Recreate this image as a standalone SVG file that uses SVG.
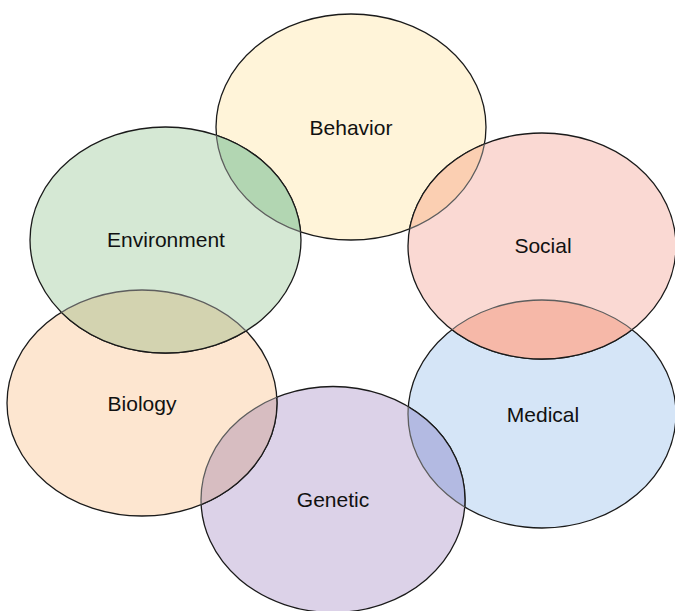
<svg xmlns="http://www.w3.org/2000/svg" width="675" height="611" viewBox="0 0 675 611">
<style>
.n{stroke:#1a1a1a;stroke-width:1.3}
.t{font-family:"Liberation Sans",Arial,sans-serif;font-size:21px;fill:#111;text-anchor:middle;dominant-baseline:central}
.h{fill:none;stroke:#5e5e5e;stroke-width:1.3}
</style>
<defs>
<clipPath id="cBeh"><ellipse cx="351" cy="127" rx="135" ry="113"/></clipPath>
<clipPath id="cMed"><ellipse cx="542" cy="414" rx="134" ry="114"/></clipPath>
<clipPath id="cSoc"><ellipse cx="542" cy="246" rx="134" ry="113"/></clipPath>
<clipPath id="cGen"><ellipse cx="333" cy="499.5" rx="132" ry="113"/></clipPath>
<clipPath id="cBio"><ellipse cx="142" cy="403" rx="135" ry="113"/></clipPath>
<clipPath id="cEnv"><ellipse cx="165.5" cy="240" rx="135.5" ry="113"/></clipPath>
</defs>
<g id="behavior"><ellipse class="n" cx="351" cy="127" rx="135" ry="113" fill="#fff4d9"/><text class="t" x="351" y="127">Behavior</text></g>
<g id="medical"><ellipse class="n" cx="542" cy="414" rx="134" ry="114" fill="#d5e5f7"/><text class="t" x="543" y="414">Medical</text></g>
<g id="social"><ellipse class="n" cx="542" cy="246" rx="134" ry="113" fill="#fad9d3"/><text class="t" x="543" y="245">Social</text></g>
<g id="genetic"><ellipse class="n" cx="333" cy="499.5" rx="132" ry="113" fill="#dcd2e8"/><text class="t" x="333" y="499">Genetic</text></g>
<g id="biology"><ellipse class="n" cx="142" cy="403" rx="135" ry="113" fill="#fde6d0"/><text class="t" x="142" y="403">Biology</text></g>
<g id="environment"><ellipse class="n" cx="165.5" cy="240" rx="135.5" ry="113" fill="#d5e8d4"/><text class="t" x="166" y="239">Environment</text></g>
<g id="overlaps">
<g clip-path="url(#cBeh)"><ellipse class="n" cx="542" cy="246" rx="134" ry="113" fill="#fbcfb2"/></g>
<g clip-path="url(#cSoc)"><ellipse class="h" cx="351" cy="127" rx="135" ry="113"/></g>
<g clip-path="url(#cMed)"><ellipse class="n" cx="542" cy="246" rx="134" ry="113" fill="#f6b8a8"/></g>
<g clip-path="url(#cSoc)"><ellipse class="h" cx="542" cy="414" rx="134" ry="114"/></g>
<g clip-path="url(#cMed)"><ellipse class="n" cx="333" cy="499.5" rx="132" ry="113" fill="#b3bae2"/></g>
<g clip-path="url(#cGen)"><ellipse class="h" cx="542" cy="414" rx="134" ry="114"/></g>
<g clip-path="url(#cGen)"><ellipse class="n" cx="142" cy="403" rx="135" ry="113" fill="#d7bdc1"/></g>
<g clip-path="url(#cBio)"><ellipse class="h" cx="333" cy="499.5" rx="132" ry="113"/></g>
<g clip-path="url(#cBio)"><ellipse class="n" cx="165.5" cy="240" rx="135.5" ry="113" fill="#d3d3b0"/></g>
<g clip-path="url(#cEnv)"><ellipse class="h" cx="142" cy="403" rx="135" ry="113"/></g>
<g clip-path="url(#cBeh)"><ellipse class="n" cx="165.5" cy="240" rx="135.5" ry="113" fill="#b2d6b2"/></g>
<g clip-path="url(#cEnv)"><ellipse class="h" cx="351" cy="127" rx="135" ry="113"/></g>
</g>
</svg>
